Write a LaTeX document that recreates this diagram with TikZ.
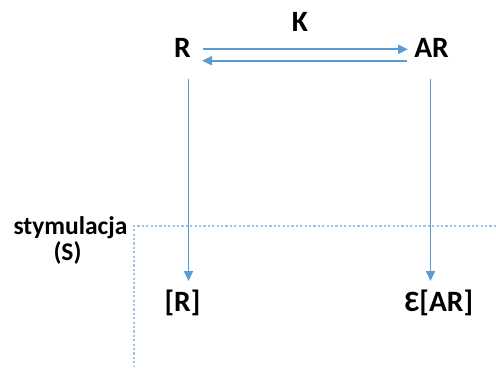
\documentclass[tikz,border=0pt]{standalone}
\usepackage{fontspec}
\setmainfont{Carlito}
\usetikzlibrary{arrows.meta}
\definecolor{linkblue}{HTML}{5B9BD5}
\definecolor{guideblue}{HTML}{9DC3E6}
\tikzset{
  big/.style={inner sep=0pt, anchor=base, font=\fontsize{29.5}{33}\selectfont\bfseries},
  small/.style={inner sep=0pt, anchor=base, font=\fontsize{25.5}{29}\selectfont\bfseries},
  link/.style={draw=linkblue, line width=1.8pt, -{Triangle[length=10pt,width=9pt]}},
  guide/.style={draw=guideblue, line width=1.1pt, dash pattern=on 2.2pt off 2.2pt}
}
\begin{document}
\begin{tikzpicture}[x=1pt,y=-1pt]
  \useasboundingbox (0,0) rectangle (496,369);
  % species and labels
  \node[big] (k)  at (300,32) {K};
  \node[big] (r)  at (182.5,57.5) {R};
  \node[big] (ar) at (431.5,57.5) {AR};
  \node[big] (rc) at (182.5,311) {[R]};
  \node[big] (arc) at (439,311) {Ɛ[AR]};
  \node[small] (s1) at (70.5,234) {stymulacja};
  \node[small] (s2) at (67.5,260) {(S)};
  % anchor points for the connectors
  \coordinate (a1) at (203,49.3);
  \coordinate (a2) at (408,49.3);
  \coordinate (b1) at (407,60.7);
  \coordinate (b2) at (202,60.7);
  \coordinate (rtop) at (188.5,79);
  \coordinate (rbot) at (188.5,281);
  \coordinate (artop) at (430.5,79);
  \coordinate (arbot) at (430.5,281);
  % stimulation guide
  \coordinate (g1) at (496,226);
  \coordinate (g2) at (134,226);
  \coordinate (g3) at (134,366);
  % equilibrium arrows
  \draw[link] (a1) -- (a2);
  \draw[link] (b1) -- (b2);
  % downward arrows
  \draw[link] (rtop) -- (rbot);
  \draw[link] (artop) -- (arbot);
  \draw[guide] (g1) -- (g2) -- (g3);
\end{tikzpicture}
\end{document}
